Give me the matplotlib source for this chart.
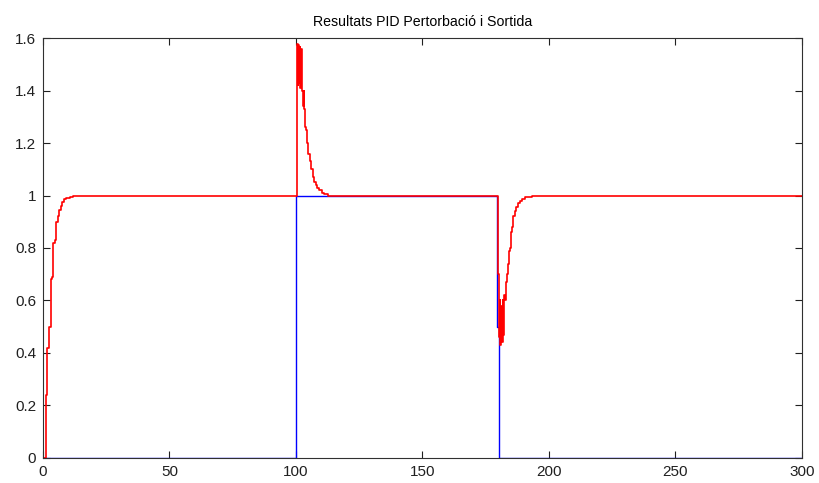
import numpy as np
import matplotlib.pyplot as plt
from matplotlib.ticker import FuncFormatter

# Disturbance input (blue): step up at t=100, back down at t=180
t_dist = [0, 100, 179.6, 180.3, 300]
y_dist = [0, 1, 0.5, 0, 0]

# PID closed-loop output (red), sampled values held between samples
t_out = [0, 1.0, 1.7, 2.4, 3.0, 3.6, 4.1, 4.8, 5.3, 5.9, 6.4, 7.0, 7.5, 8.3, 9.2, 10.5, 12.0, 14.0,
         100.0, 100.25, 100.5, 100.75, 101.0, 101.25, 101.5, 101.75, 102.0, 102.25, 102.5,
         102.75, 103.0, 103.25, 103.5, 103.75, 104.0, 104.5, 104.9, 105.4, 106.0, 106.6,
         107.2, 107.8, 108.5, 109.3, 110.2, 111.2, 112.5,
         179.8, 180.2, 180.5, 180.8, 181.1, 181.4, 181.7, 182.0, 182.3, 182.6, 183.0, 183.4,
         183.8, 184.2, 184.6, 185.0, 185.5, 186.0, 186.6, 187.2, 187.9, 188.6, 189.5, 190.5,
         192.0, 193.5, 195.0, 300]
y_out = [0, 0.24, 0.42, 0.50, 0.68, 0.69, 0.82, 0.83, 0.90, 0.92, 0.945, 0.96, 0.975, 0.985, 0.99, 0.995, 0.998, 1.0,
         1.0, 1.13, 1.577, 1.42, 1.575, 1.43, 1.565, 1.41, 1.56, 1.41, 1.40,
         1.34, 1.40, 1.33, 1.30, 1.26, 1.25, 1.20, 1.16, 1.13, 1.10, 1.07,
         1.05, 1.04, 1.03, 1.02, 1.01, 1.005, 1.0,
         0.70, 0.46, 0.60, 0.43, 0.58, 0.44, 0.60, 0.47, 0.62, 0.60, 0.67, 0.70,
         0.74, 0.79, 0.80, 0.86, 0.88, 0.92, 0.94, 0.957, 0.97, 0.98, 0.988, 0.993,
         0.996, 0.998, 1.0, 1.0]

x_ticks = [0, 50, 100, 150, 200, 250, 300]
y_ticks = [0, 0.2, 0.4, 0.6, 0.8, 1.0, 1.2, 1.4, 1.6]

plt.rcParams['font.family'] = ['Liberation Sans', 'DejaVu Sans']

fig = plt.figure(figsize=(8.19, 4.83), dpi=100)
ax = fig.add_axes([0.0525, 0.0518, 0.9265, 0.8695])

ax.plot(t_dist, y_dist, color='#0000ff', lw=1.0, drawstyle='steps-post')
ax.plot(t_out, y_out, color='#ff0000', lw=1.2, drawstyle='steps-post')

ax.set_xlim(0, 300)
ax.set_ylim(0, 1.6)
ax.set_xticks(x_ticks)
ax.set_yticks(y_ticks)
ax.yaxis.set_major_formatter(FuncFormatter(lambda v, _: f"{v:g}"))
ax.tick_params(direction='in', length=5, width=0.8, labelsize=11, colors='#202020',
               top=True, right=True, pad=5)
for s in ax.spines.values():
    s.set_color('#303030')
    s.set_linewidth(0.8)

ax.set_title("Resultats PID Pertorbació i Sortida", fontsize=10.2, pad=9)

plt.savefig("out.png", dpi=100)
